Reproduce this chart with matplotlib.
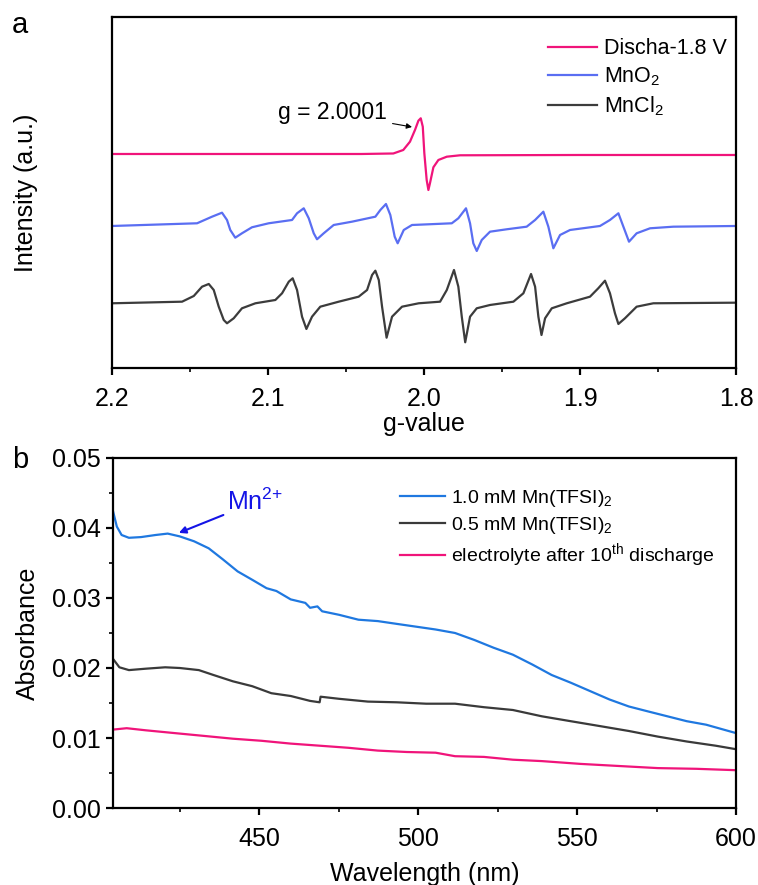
import matplotlib
matplotlib.use("Agg")
import matplotlib.pyplot as plt
from matplotlib.ticker import MultipleLocator, FormatStrFormatter

plt.rcParams['font.family'] = ['Liberation Sans', 'DejaVu Sans']
plt.rcParams['mathtext.fontset'] = 'custom'
plt.rcParams['mathtext.rm'] = 'Liberation Sans'
plt.rcParams['mathtext.it'] = 'Liberation Sans:italic'

# ---------------- Panel a : EPR ----------------
discha_g = [2.20, 2.10, 2.04, 2.0197, 2.0133, 2.0090, 2.0058, 2.0036, 2.0021, 2.0008,
            1.9998, 1.9983, 1.9972, 1.9962, 1.9940, 1.9908, 1.9854, 1.9769, 1.90, 1.80]
discha_i = [214, 214, 214, 214.5, 218, 226.3, 238, 247.3, 249.7, 241.3,
            214.7, 188, 178, 184.7, 200.7, 208, 211.3, 212.7, 213, 213]

mno2_g = [2.2000, 2.1455, 2.1359, 2.1295, 2.1263, 2.1242, 2.1210, 2.1167, 2.1103, 2.0996,
          2.0846, 2.0814, 2.0771, 2.0739, 2.0707, 2.0686, 2.0643, 2.0579, 2.0462, 2.0312,
          2.0280, 2.0244, 2.0216, 2.0188, 2.0169, 2.0130, 2.0077, 1.9970, 1.9822, 1.9780,
          1.9731, 1.9705, 1.9684, 1.9662, 1.9630, 1.9577, 1.9470, 1.9342, 1.9288, 1.9235,
          1.9203, 1.9171, 1.9128, 1.9064, 1.8872, 1.8808, 1.8754, 1.8722, 1.8686, 1.8637,
          1.8551, 1.8402, 1.8000]
mno2_i = [142, 144.7, 151.3, 155.3, 148, 138, 130.3, 134.7, 140.7, 144.7,
          148, 154.7, 159.7, 149.7, 134.7, 128.7, 134.7, 143, 146.3, 151.3,
          158, 164, 153, 131.3, 124.7, 138, 143, 143.7, 144.7, 149.7,
          159.7, 144.7, 124.7, 117, 128, 136.3, 138.7, 141.3, 148, 156.3,
          141.3, 119.7, 133, 138, 142, 148, 154.7, 141.3, 126.3, 134.7,
          139.7, 141.3, 142]

mncl2_g = [2.2000, 2.1551, 2.1476, 2.1423, 2.1380, 2.1348, 2.1316, 2.1284, 2.1263, 2.1220,
           2.1167, 2.1081, 2.0953, 2.0910, 2.0867, 2.0842, 2.0814, 2.0782, 2.0754, 2.0718,
           2.0665, 2.0547, 2.0419, 2.0365, 2.0333, 2.0312, 2.0290, 2.0269, 2.0240, 2.0205,
           2.0141, 2.0034, 1.9897, 1.9854, 1.9808, 1.9780, 1.9758, 1.9736, 1.9705, 1.9662,
           1.9577, 1.9427, 1.9363, 1.9314, 1.9288, 1.9267, 1.9247, 1.9224, 1.9181, 1.9085,
           1.8936, 1.8883, 1.8840, 1.8808, 1.8776, 1.8754, 1.8712, 1.8637, 1.8530, 1.8000]
mncl2_i = [64.7, 66.3, 72, 81.3, 84, 78, 61.3, 48, 44.7, 49.7,
           59.7, 64.7, 68, 74.7, 86.3, 89.7, 78, 51.3, 39, 51.3,
           61.3, 66.3, 71.3, 78, 93, 97.3, 88, 61.3, 30.3, 51.3,
           61.3, 64.7, 66.3, 78, 98, 81.3, 51.3, 25.7, 51.3, 59.7,
           63, 66.3, 74.7, 94, 81.3, 51.3, 33, 49.7, 59.7, 64.7,
           71.3, 79.7, 87.3, 74.7, 54.7, 44, 49.7, 61.3, 64.7, 65.3]

epr_labels = ['Discha-1.8 V', r'MnO$\mathregular{_2}$', r'MnCl$\mathregular{_2}$']
epr_colors = ['#F0147A', '#5A6EF2', '#3C3C3C']

# ---------------- Panel b : UV-vis ----------------
wl_10 = [404, 405.2, 406.7, 409.0, 412.8, 417.4, 421.2, 425.0, 429.5, 434.1, 438.6, 443.2,
         447.8, 452.3, 455.4, 459.9, 464.5, 466.0, 468.3, 469.8, 475.1, 481.2, 487.3, 493.3,
         499.4, 505.5, 511.6, 517.7, 523.7, 529.8, 535.9, 542.0, 548.0, 554.1, 560.2, 566.3,
         572.3, 578.4, 584.5, 590.6, 600]
abs_10 = [0.0424, 0.0402, 0.0390, 0.0386, 0.0387, 0.0390, 0.0392, 0.0388, 0.0381, 0.0371,
          0.0355, 0.0338, 0.0326, 0.0314, 0.0310, 0.0298, 0.0293, 0.0286, 0.0288, 0.0281,
          0.0276, 0.0269, 0.0267, 0.0263, 0.0259, 0.0255, 0.0250, 0.0240, 0.0229, 0.0219,
          0.0205, 0.0190, 0.0179, 0.0167, 0.0155, 0.0145, 0.0138, 0.0131, 0.0124, 0.0119,
          0.0107]

wl_05 = [404, 406.0, 409.0, 414.3, 420.4, 425.0, 431.0, 435.6, 441.7, 447.8, 453.8, 459.9,
         466.0, 469.0, 469.3, 475.1, 484.2, 493.3, 502.5, 511.6, 520.7, 529.8, 538.9, 548.0,
         557.2, 566.3, 575.4, 584.5, 593.6, 600]
abs_05 = [0.0213, 0.0201, 0.0197, 0.0199, 0.0201, 0.0200, 0.0197, 0.0190, 0.0181, 0.0174,
          0.0164, 0.0160, 0.0153, 0.0151, 0.0159, 0.0156, 0.0152, 0.0151, 0.0149, 0.0149,
          0.0144, 0.0140, 0.0131, 0.0124, 0.0117, 0.0110, 0.0102, 0.0095, 0.0089, 0.0084]

wl_el = [404, 408.3, 414.3, 423.4, 432.6, 441.7, 450.8, 459.9, 469.0, 478.1, 487.3, 496.4,
         505.5, 511.6, 520.7, 529.8, 538.9, 551.1, 563.2, 575.4, 587.5, 600]
abs_el = [0.0112, 0.0114, 0.0111, 0.0107, 0.0103, 0.0099, 0.0096, 0.0092, 0.0089, 0.0086,
          0.0082, 0.0080, 0.0079, 0.0074, 0.0073, 0.0069, 0.0067, 0.0063, 0.0060, 0.0057,
          0.0056, 0.0054]

uv_labels = [r'1.0 mM Mn(TFSI)$\mathregular{_2}$', r'0.5 mM Mn(TFSI)$\mathregular{_2}$',
             r'electrolyte after 10$\mathregular{^{th}}$ discharge']
uv_colors = ['#1F78E0', '#3A3A3A', '#F0147A']

fig = plt.figure(figsize=(7.58, 8.85), dpi=100)
ax1 = fig.add_axes([0.1478, 0.5842, 0.8232, 0.3966])
ax2 = fig.add_axes([0.1491, 0.0870, 0.8219, 0.3955])

lw = 1.6
for ax in (ax1, ax2):
    for s in ax.spines.values():
        s.set_linewidth(1.6)

# ---- panel a
ax1.plot(discha_g, discha_i, color=epr_colors[0], lw=lw, label=epr_labels[0])
ax1.plot(mno2_g, mno2_i, color=epr_colors[1], lw=lw, label=epr_labels[1])
ax1.plot(mncl2_g, mncl2_i, color=epr_colors[2], lw=lw, label=epr_labels[2])
ax1.set_xlim(2.2, 1.8)
ax1.set_ylim(0, 351)
ax1.set_yticks([])
ax1.xaxis.set_major_locator(MultipleLocator(0.1))
ax1.xaxis.set_minor_locator(MultipleLocator(0.05))
ax1.xaxis.set_major_formatter(FormatStrFormatter('%.1f'))
ax1.tick_params(axis='x', which='major', direction='out', length=5, width=1.6,
                labelsize=18, pad=9)
ax1.tick_params(axis='x', which='minor', direction='out', length=3, width=1.2)
ax1.set_xlabel('g-value', fontsize=18)
ax1.xaxis.set_label_coords(0.5, -0.125)
ax1.set_ylabel('Intensity (a.u.)', fontsize=18)
ax1.yaxis.set_label_coords(-0.118, 0.5)
ax1.legend(loc='upper right', bbox_to_anchor=(0.985, 0.94), frameon=False,
           fontsize=15.5, handlelength=2.3, handletextpad=0.3, labelspacing=0.3,
           borderaxespad=0, borderpad=0)
ax1.annotate('g = 2.0001', xy=(2.0077, 241), xytext=(2.0237, 255),
             fontsize=16.5, ha='right', va='center',
             arrowprops=dict(arrowstyle='-|>', color='black', lw=0.8,
                             mutation_scale=8, shrinkA=2, shrinkB=0))
fig.text(0.016, 0.972, 'a', fontsize=21, ha='left', va='center')

# ---- panel b
ax2.plot(wl_10, abs_10, color=uv_colors[0], lw=lw, label=uv_labels[0])
ax2.plot(wl_05, abs_05, color=uv_colors[1], lw=lw, label=uv_labels[1])
ax2.plot(wl_el, abs_el, color=uv_colors[2], lw=lw, label=uv_labels[2])
ax2.set_xlim(404, 600)
ax2.set_ylim(0, 0.05)
ax2.set_xticks([450, 500, 550, 600])
ax2.xaxis.set_minor_locator(MultipleLocator(25))
ax2.yaxis.set_major_locator(MultipleLocator(0.01))
ax2.yaxis.set_minor_locator(MultipleLocator(0.005))
ax2.yaxis.set_major_formatter(FormatStrFormatter('%.2f'))
ax2.tick_params(axis='x', which='major', direction='out', length=5, width=1.6,
                labelsize=18, pad=9)
ax2.tick_params(axis='y', which='major', direction='out', length=5, width=1.6,
                labelsize=18, pad=4)
ax2.tick_params(which='minor', direction='out', length=3, width=1.2)
ax2.set_xlabel('Wavelength (nm)', fontsize=18)
ax2.xaxis.set_label_coords(0.5, -0.155)
ax2.set_ylabel('Absorbance', fontsize=18)
ax2.yaxis.set_label_coords(-0.118, 0.5)
ax2.legend(loc='upper right', bbox_to_anchor=(0.965, 0.915), frameon=False,
           fontsize=14, handlelength=2.3, handletextpad=0.3, labelspacing=0.3,
           borderaxespad=0, borderpad=0)
ax2.annotate(r'Mn$\mathregular{^{2{+}}}$', xy=(424.7, 0.0393), xytext=(440, 0.0437),
             fontsize=18, color='#1414E6', ha='left', va='center',
             arrowprops=dict(arrowstyle='-|>', color='#1414E6', lw=1.5,
                             mutation_scale=10, shrinkA=1, shrinkB=0))
fig.text(0.016, 0.48, 'b', fontsize=21, ha='left', va='center')

fig.savefig('out.png', dpi=100)
